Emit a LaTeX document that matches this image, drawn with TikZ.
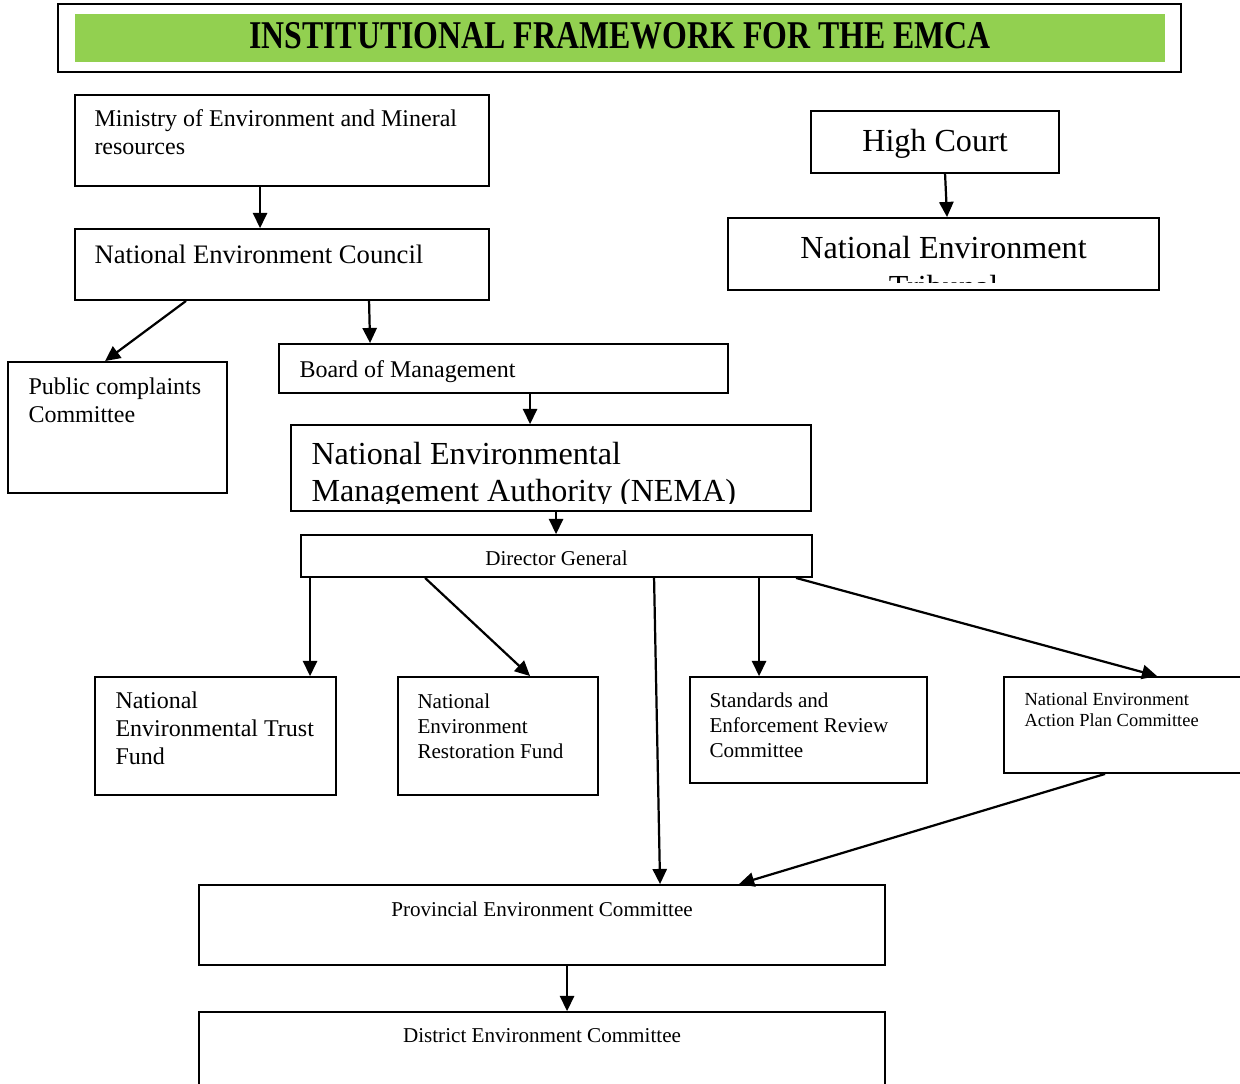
\documentclass[tikz,border=0pt]{standalone}
\usepackage{fontspec}
\setmainfont{Liberation Serif}
\newfontfamily\titlefont{Liberation Serif}[FakeStretch=0.81]
\usetikzlibrary{arrows.meta,calc}
\newlength\unitpx
\setlength\unitpx{0.45pt}

\begin{document}
\begin{tikzpicture}[x=0.45pt, y=-0.45pt,
        box/.style={draw, line width=0.85pt, inner sep=0pt},
        arr/.style={-{Triangle[length=6.8pt,width=6.4pt]}, line width=1pt},
        txt/.style={inner sep=0pt, anchor=north west, align=left},
        ctxt/.style={inner sep=0pt, anchor=north, align=center},
        f14/.style={font=\fontsize{14.45}{16.4}\selectfont},
        f12/.style={font=\fontsize{12}{14}\selectfont},
        f11/.style={font=\fontsize{10.8}{12.6}\selectfont},
        f95/.style={font=\fontsize{9.5}{11.25}\selectfont},
        f83/.style={font=\fontsize{8.3}{9.45}\selectfont}]
            \useasboundingbox (0,0) rectangle (1240,1084);
            \clip (0,0) rectangle (1240,1084);

            % title
            \node[draw, line width=1.1pt, minimum width=1123\unitpx, minimum height=68\unitpx] (frame) at (619.5,38) {};
            \node[fill={rgb,255:red,146;green,208;blue,80}, minimum width=1090\unitpx, minimum height=48\unitpx] (band) at (620,38) {};
            \node[inner sep=0pt, font=\titlefont\bfseries\fontsize{17.7}{20}\selectfont] (title) at (620,35.5) {INSTITUTIONAL FRAMEWORK FOR THE EMCA};

            % boxes
            \node[box, minimum width=414\unitpx, minimum height=91\unitpx] (ministry) at (282,140.5) {};
            \node[box, minimum width=414\unitpx, minimum height=71\unitpx] (nec) at (282,264.5) {};
            \node[box, minimum width=248\unitpx, minimum height=62\unitpx] (court) at (935,142) {};
            \node[box, minimum width=431\unitpx, minimum height=72\unitpx] (tribunal) at (943.5,254) {};
            \node[box, minimum width=219\unitpx, minimum height=131\unitpx] (public) at (117.5,427.5) {};
            \node[box, minimum width=449\unitpx, minimum height=49\unitpx] (board) at (503.5,368.5) {};
            \node[box, minimum width=520\unitpx, minimum height=86\unitpx] (nema) at (551,468) {};
            \node[box, minimum width=511\unitpx, minimum height=42\unitpx] (dg) at (556.5,556) {};
            \node[box, minimum width=241\unitpx, minimum height=118\unitpx] (trust) at (215.5,736) {};
            \node[box, minimum width=200\unitpx, minimum height=118\unitpx] (restore) at (498,736) {};
            \node[box, minimum width=237\unitpx, minimum height=106\unitpx] (standards) at (808.5,730) {};
            \node[box, minimum width=256\unitpx, minimum height=96\unitpx] (neap) at (1132,725) {};
            \node[box, minimum width=686\unitpx, minimum height=80\unitpx] (provincial) at (542,925) {};
            \node[box, minimum width=686\unitpx, minimum height=88\unitpx] (district) at (542,1056) {};

            % texts
            \node[txt, f11] (ministry-t) at ($(ministry.north west)+(20,15)$) {Ministry of Environment and Mineral\\resources};
            \node[txt, f12] (nec-t) at ($(nec.north west)+(20,17)$) {National Environment Council};
            \node[ctxt, f14] (court-t) at ($(court.north)+(0,19)$) {High Court};
            \begin{scope}
                \clip (tribunal.north west) rectangle ($(tribunal.south east)+(0,-8)$);
                \node[ctxt, font=\fontsize{14.45}{17.6}\selectfont] (tribunal-t) at ($(tribunal.north)+(0,19)$) {National Environment\\Tribunal};
            \end{scope}
            \node[txt, f11] (public-t) at ($(public.north west)+(21,16)$) {Public complaints\\Committee};
            \node[txt, f11] (board-t) at ($(board.north west)+(21,17)$) {Board of Management};
            \begin{scope}
                \clip (nema.north west) rectangle ($(nema.south east)+(0,-8)$);
                \node[txt, f14] (nema-t) at ($(nema.north west)+(21,18)$) {National Environmental\\Management Authority (NEMA)};
            \end{scope}
            \node[ctxt, f95] (dg-t) at ($(dg.north)+(0,16)$) {Director General};
            \node[txt, f11] (trust-t) at ($(trust.north west)+(21,15)$) {National\\Environmental Trust\\Fund};
            \node[txt, f95] (restore-t) at ($(restore.north west)+(20,17)$) {National\\Environment\\Restoration Fund};
            \node[txt, f95] (standards-t) at ($(standards.north west)+(20,16)$) {Standards and\\Enforcement Review\\Committee};
            \node[txt, f83] (neap-t) at ($(neap.north west)+(21,16)$) {National Environment\\Action Plan Committee};
            \node[ctxt, f95] (provincial-t) at ($(provincial.north)+(0,17)$) {Provincial Environment Committee};
            \node[ctxt, f95] (district-t) at ($(district.north)+(0,17)$) {District Environment Committee};

            % arrows
            \draw[arr] ($(ministry.south west)+(186,0)$) to ($(nec.north west)+(186,0)$);
            \draw[arr] ($(court.south west)+(135,0)$) to ($(tribunal.north west)+(220,0)$);
            \draw[arr] ($(nec.south west)+(112,0)$) to ($(public.north west)+(98,0)$);
            \draw[arr] ($(nec.south west)+(295,0)$) to ($(board.north west)+(92,0)$);
            \draw[arr] ($(board.south west)+(252,0)$) to ($(nema.north west)+(240,0)$);
            \draw[arr] ($(nema.south west)+(266,0)$) to ($(dg.north west)+(256,0)$);
            \draw[arr] ($(dg.south west)+(10,0)$) to ($(trust.north west)+(216,0)$);
            \draw[arr] ($(dg.south west)+(125,0)$) to ($(restore.north west)+(133,0)$);
            \draw[arr] ($(dg.south west)+(354,0)$) to ($(provincial.north west)+(462,0)$);
            \draw[arr] ($(dg.south west)+(459,0)$) to ($(standards.north west)+(70,0)$);
            \draw[arr] ($(dg.south west)+(496,0)$) to ($(neap.north west)+(154,0)$);
            \draw[arr] ($(neap.south west)+(102,0)$) to ($(provincial.north west)+(541,0)$);
            \draw[arr] ($(provincial.south west)+(369,0)$) to ($(district.north west)+(369,0)$);
        \end{tikzpicture}
\end{document}
